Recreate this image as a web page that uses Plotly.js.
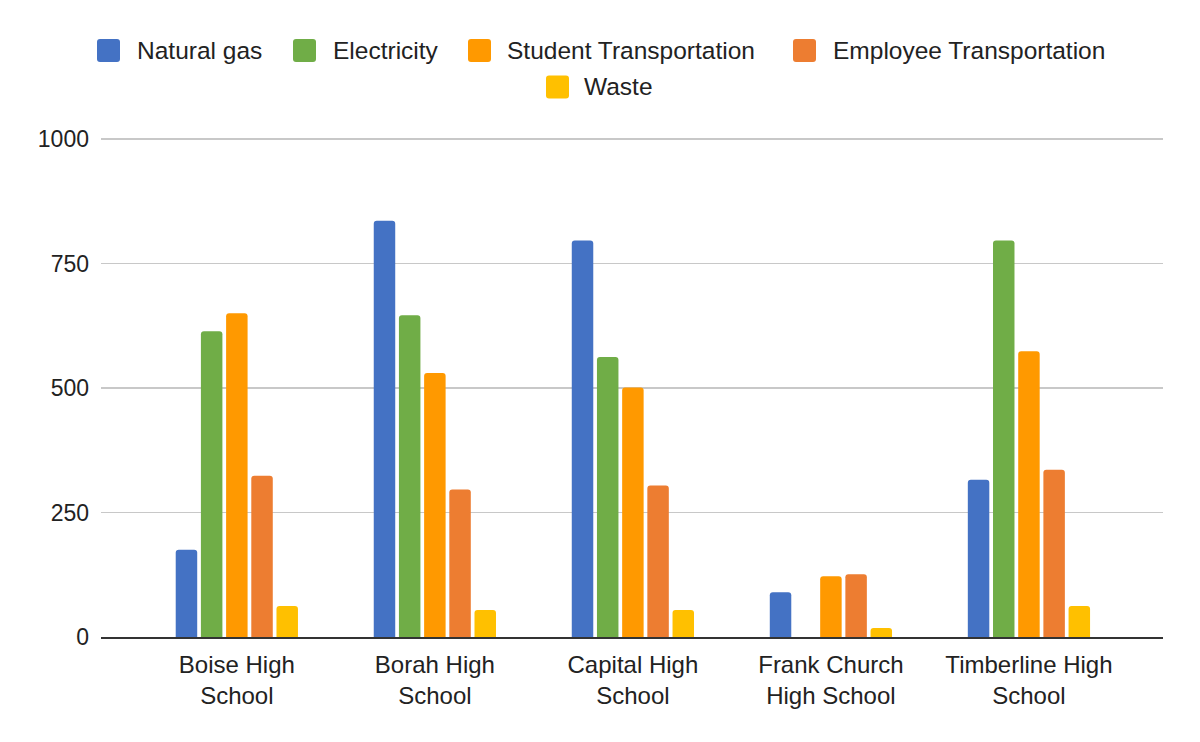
<!DOCTYPE html>
<html>
<head>
<meta charset="utf-8">
<script src="https://cdn.plot.ly/plotly-3.0.1.min.js"></script>
<style>html,body{margin:0;padding:0;background:#fff;}#chart{width:1200px;height:742px;}</style>
</head>
<body>
<div id="chart"></div>
<script>
// ---- Data ----
const categories = ['Boise High School', 'Borah High School', 'Capital High School', 'Frank Church High School', 'Timberline High School'];
const tickLabels = ['Boise High<br>School', 'Borah High<br>School', 'Capital High<br>School', 'Frank Church<br>High School', 'Timberline High<br>School'];
const seriesNames = ['Natural gas', 'Electricity', 'Student Transportation', 'Employee Transportation', 'Waste'];
const naturalGas = [175, 836, 796, 90, 316];
const electricity = [614, 646, 562, 0, 796];
const studentTransportation = [650, 530, 501, 122, 574];
const employeeTransportation = [324, 296, 304, 126, 336];
const waste = [62, 54, 54, 18, 62];
const yTickValues = [0, 250, 500, 750, 1000];

// ---- Styles ----
const colors = ['#4472c4', '#70ad47', '#ff9900', '#ed7d31', '#ffc000'];
const seriesValues = [naturalGas, electricity, studentTransportation, employeeTransportation, waste];
const FONT = 'Liberation Sans, Arial, sans-serif';
const TEXT = '#222222';

const traces = seriesNames.map((name, i) => ({
  type: 'bar',
  name: name,
  x: categories,
  y: seriesValues[i],
  marker: {color: colors[i], cornerradius: 3},
  hoverinfo: 'skip'
}));

// plot area in pixels (top padded by 2px so the 1000 gridline is drawn)
const L = 101, R = 1163, T = 137, B = 637;
const px = x => (x - L) / (R - L);
const py = y => (B - y) / (B - T);

// custom legend (Google-style large swatches, centered rows)
const legendItems = [
  {sx: 97, tx: 138, cy: 50.5},
  {sx: 293, tx: 334, cy: 50.5},
  {sx: 468, tx: 508, cy: 50.5},
  {sx: 793, tx: 834, cy: 50.5},
  {sx: 546, tx: 585, cy: 87}
];
const SW = 23, RAD = 3;
const shapes = [];
const annotations = [];
legendItems.forEach((it, i) => {
  const x0 = it.sx, x1 = it.sx + SW, y0 = it.cy - SW / 2, y1 = it.cy + SW / 2;
  const p = (x, y) => px(x) + ',' + py(y);
  const path = 'M' + p(x0 + RAD, y0) + ' L' + p(x1 - RAD, y0) + ' Q' + p(x1, y0) + ' ' + p(x1, y0 + RAD) +
    ' L' + p(x1, y1 - RAD) + ' Q' + p(x1, y1) + ' ' + p(x1 - RAD, y1) +
    ' L' + p(x0 + RAD, y1) + ' Q' + p(x0, y1) + ' ' + p(x0, y1 - RAD) +
    ' L' + p(x0, y0 + RAD) + ' Q' + p(x0, y0) + ' ' + p(x0 + RAD, y0) + ' Z';
  shapes.push({type: 'path', xref: 'paper', yref: 'paper', path: path,
    fillcolor: colors[i], line: {width: 0}, layer: 'above'});
  annotations.push({xref: 'paper', yref: 'paper', x: px(it.tx - 3), y: py(it.cy),
    xanchor: 'left', yanchor: 'middle', showarrow: false, text: seriesNames[i],
    font: {family: FONT, size: 24.5, color: TEXT}});
});

const layout = {
  width: 1200, height: 742,
  margin: {l: L, r: 1200 - R, t: T, b: 742 - B, pad: 0},
  paper_bgcolor: '#ffffff', plot_bgcolor: '#ffffff',
  showlegend: false,
  barmode: 'group',
  bargap: 0.364,
  bargroupgap: 0.147,
  font: {family: FONT, size: 23, color: TEXT},
  xaxis: {
    type: 'category',
    categoryorder: 'array', categoryarray: categories,
    tickmode: 'array', tickvals: categories, ticktext: tickLabels,
    range: [-0.686, 4.677],
    showgrid: false, zeroline: false,
    showline: true, linecolor: '#333333', linewidth: 2,
    ticks: '', ticklabelstandoff: 5,
    tickfont: {family: FONT, size: 24, color: TEXT},
    fixedrange: true
  },
  yaxis: {
    range: [0, 1004],
    tickmode: 'array', tickvals: yTickValues,
    showgrid: true, gridcolor: '#c8c8c8', gridwidth: 1.3,
    zeroline: false, showline: false,
    ticks: '', ticklabelstandoff: 11,
    tickfont: {family: FONT, size: 23, color: TEXT},
    fixedrange: true
  },
  shapes: shapes,
  annotations: annotations
};

Plotly.newPlot('chart', traces, layout, {displayModeBar: false, staticPlot: true});
</script>
</body>
</html>
